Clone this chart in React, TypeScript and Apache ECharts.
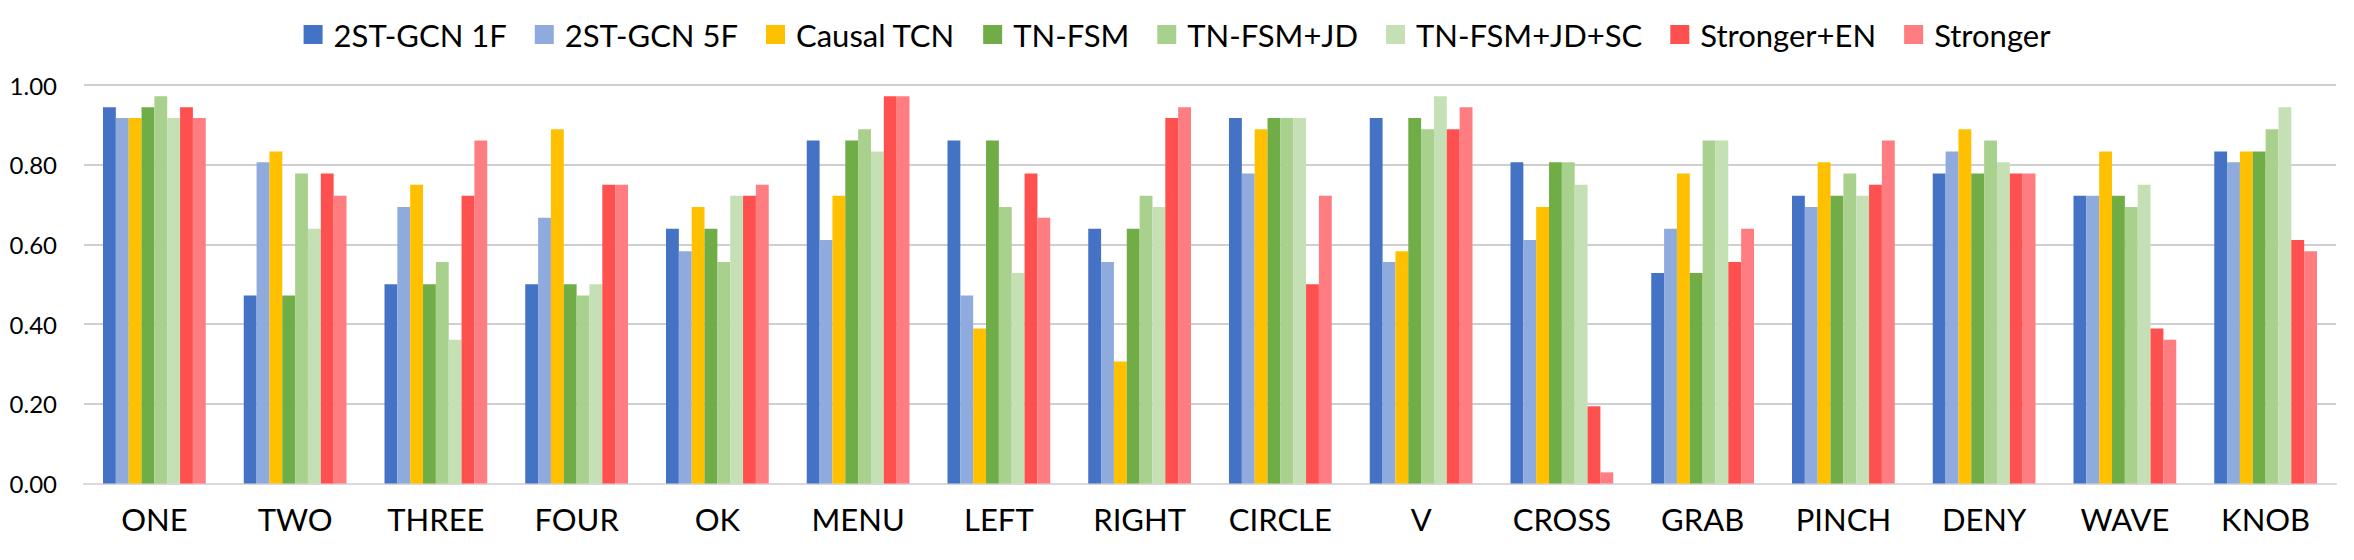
import React, { useEffect, useRef } from "react";
import * as echarts from "echarts";

const categories = ["ONE", "TWO", "THREE", "FOUR", "OK", "MENU", "LEFT", "RIGHT", "CIRCLE", "V", "CROSS", "GRAB", "PINCH", "DENY", "WAVE", "KNOB"];
const seriesNames = ["2ST-GCN 1F", "2ST-GCN 5F", "Causal TCN", "TN-FSM", "TN-FSM+JD", "TN-FSM+JD+SC", "Stronger+EN", "Stronger"];
const seriesColors = ["#4472C4", "#8FAADC", "#FFC000", "#70AD47", "#A9D18E", "#C5E0B4", "#FF5050", "#FF7C80"];

const gcn1f = [0.944, 0.472, 0.5, 0.5, 0.639, 0.861, 0.861, 0.639, 0.917, 0.917, 0.806, 0.528, 0.722, 0.778, 0.722, 0.833];
const gcn5f = [0.917, 0.806, 0.694, 0.667, 0.583, 0.611, 0.472, 0.556, 0.778, 0.556, 0.611, 0.639, 0.694, 0.833, 0.722, 0.806];
const causalTcn = [0.917, 0.833, 0.75, 0.889, 0.694, 0.722, 0.389, 0.306, 0.889, 0.583, 0.694, 0.778, 0.806, 0.889, 0.833, 0.833];
const tnFsm = [0.944, 0.472, 0.5, 0.5, 0.639, 0.861, 0.861, 0.639, 0.917, 0.917, 0.806, 0.528, 0.722, 0.778, 0.722, 0.833];
const tnFsmJd = [0.972, 0.778, 0.556, 0.472, 0.556, 0.889, 0.694, 0.722, 0.917, 0.889, 0.806, 0.861, 0.778, 0.861, 0.694, 0.889];
const tnFsmJdSc = [0.917, 0.639, 0.361, 0.5, 0.722, 0.833, 0.528, 0.694, 0.917, 0.972, 0.75, 0.861, 0.722, 0.806, 0.75, 0.944];
const strongerEn = [0.944, 0.778, 0.722, 0.75, 0.722, 0.972, 0.778, 0.917, 0.5, 0.889, 0.194, 0.556, 0.75, 0.778, 0.389, 0.611];
const stronger = [0.917, 0.722, 0.861, 0.75, 0.75, 0.972, 0.667, 0.944, 0.722, 0.944, 0.028, 0.639, 0.861, 0.778, 0.361, 0.583];

const allSeries = [gcn1f, gcn5f, causalTcn, tnFsm, tnFsmJd, tnFsmJdSc, strongerEn, stronger];
const yTicks = ["0.00", "0.20", "0.40", "0.60", "0.80", "1.00"];

const FONT = "Lato, 'Noto Sans', sans-serif";

export default function App() {
  const ref = useRef<HTMLDivElement>(null);
  useEffect(() => {
    document.body.style.margin = "0";
    const chart = echarts.init(ref.current!, null, { renderer: "svg" });
    chart.setOption({
      animation: false,
      backgroundColor: "#ffffff",
      textStyle: { fontFamily: FONT },
      legend: {
        top: 14,
        left: "center",
        itemWidth: 19,
        itemHeight: 19,
        itemGap: 28,
        icon: "rect",
        textStyle: { fontFamily: FONT, fontSize: 31, color: "#000", lineHeight: 30, padding: [0, 0, 0, 6] },
        data: seriesNames,
      },
      grid: { left: 84, right: 18, top: 85, bottom: 76.5, containLabel: false },
      xAxis: {
        type: "category",
        data: categories,
        axisTick: { show: false },
        axisLine: { show: true, lineStyle: { color: "#d9d9d9", width: 2 } },
        axisLabel: { fontFamily: FONT, fontSize: 31, color: "#000", margin: 20, lineHeight: 31 },
      },
      yAxis: {
        type: "value",
        min: 0,
        max: 1,
        interval: 0.2,
        axisLine: { show: false },
        axisTick: { show: false },
        splitLine: { lineStyle: { color: "#bfbfbf", width: 1.5 } },
        axisLabel: {
          fontFamily: FONT,
          fontSize: 24,
          color: "#000",
          margin: 27,
          formatter: (v: number) => yTicks[Math.round(v / 0.2)] ?? v.toFixed(2),
        },
      },
      series: seriesNames.map((name, i) => ({
        name,
        type: "bar",
        data: allSeries[i],
        itemStyle: { color: seriesColors[i] },
        barGap: "0%",
        barCategoryGap: "27%",
      })),
    });
    return () => chart.dispose();
  }, []);
  return <div ref={ref} style={{ width: 2354, height: 560 }} />;
}
